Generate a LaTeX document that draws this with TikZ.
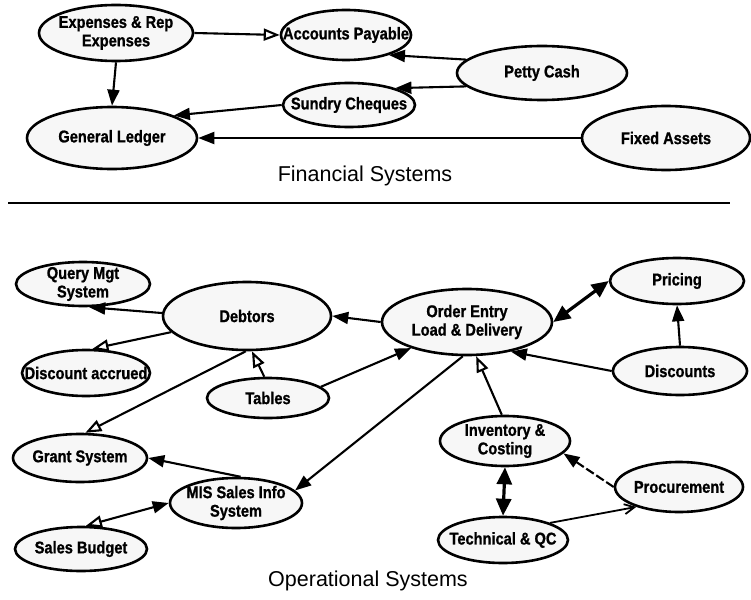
\documentclass[tikz,border=0pt]{standalone}
\usepackage{fontspec}
\setmainfont{Liberation Sans}
\newfontfamily\nodefont[FakeStretch=0.86,FakeBold=1]{Liberation Sans}
\usetikzlibrary{shapes.geometric,arrows.meta}

\tikzset{
  sys/.style={ellipse, draw, line width=2.6pt, fill=black!3, inner sep=0pt},
  lab/.style={font=\nodefont\bfseries\fontsize{17}{18.5}\selectfont, align=center, inner sep=0pt},
  title/.style={font=\fontsize{21.5}{24}\selectfont},
  link/.style={line width=2.1pt, -{Triangle[length=16pt,width=12pt]}},
  olink/.style={line width=2.1pt, -{Triangle[open,length=16pt,width=12pt,line width=2.1pt]}},
  both/.style={line width=3.2pt, {Triangle[length=17pt,width=15pt]}-{Triangle[length=17pt,width=15pt]}},
  thinboth/.style={line width=2.1pt, {Triangle[length=16pt,width=12pt]}-{Triangle[open,length=16pt,width=12pt,line width=2.1pt]}},
  barb/.style={line width=1.8pt, -{Straight Barb[length=10pt,width=10pt,line width=1.8pt]}}
}

\begin{document}
\begin{tikzpicture}[x=1pt,y=-1pt]
\useasboundingbox (0,0) rectangle (751,599);

% ---------------- Financial systems ----------------
\node[sys, minimum width=154pt, minimum height=56pt, label={[lab]center:{Expenses \& Rep\\Expenses}}] (exp) at (116,33) {};
\node[sys, minimum width=130pt, minimum height=50pt, label={[lab]center:Accounts Payable}] (ap) at (346,35) {};
\node[sys, minimum width=170pt, minimum height=54pt, label={[lab]center:Petty Cash}] (pc) at (542,73) {};
\node[sys, minimum width=132pt, minimum height=44pt, label={[lab]center:Sundry Cheques}] (sc) at (349,105) {};
\node[sys, minimum width=170pt, minimum height=62pt, label={[lab]center:General Ledger}] (gl) at (112,138) {};
\node[sys, minimum width=168pt, minimum height=64pt, label={[lab]center:Fixed Assets}] (fa) at (666,138) {};

\node[title] (fin) at (365,176) {Financial Systems};

\draw[olink] (exp.east) -- (ap.west);
\draw[link] (exp.south) -- (gl.north);
\draw[link] (pc.170) -- (ap.-25);
\draw[link] (pc.190) -- (sc.20);
\draw[link] (sc.west) -- (gl.20);
\draw[link] (fa.west) -- (gl.east);

% separator between the two groups
\coordinate (ruleL) at (8,203);
\coordinate (ruleR) at (730,203);
\draw[line width=2.2pt] (ruleL) -- (ruleR);

% ---------------- Operational systems ----------------
\node[sys, minimum width=134pt, minimum height=44pt, label={[lab]center:{Query Mgt\\System}}] (qms) at (83,284) {};
\node[sys, minimum width=168pt, minimum height=68pt, label={[lab]center:Debtors}] (deb) at (247,316) {};
\node[sys, minimum width=128pt, minimum height=46pt, label={[lab]center:Discount accrued}] (da) at (86,373) {};
\node[sys, minimum width=122pt, minimum height=40pt, label={[lab]center:Tables}] (tab) at (268,398) {};
\node[sys, minimum width=170pt, minimum height=66pt, label={[lab]center:{Order Entry\\Load \& Delivery}}] (oe) at (467,322) {};
\node[sys, minimum width=134pt, minimum height=46pt, label={[lab]center:Pricing}] (pr) at (677,281) {};
\node[sys, minimum width=134pt, minimum height=48pt, label={[lab]center:Discounts}] (dis) at (680,371) {};
\node[sys, minimum width=130pt, minimum height=50pt, label={[lab]center:{Inventory \&\\Costing}}] (inv) at (505,441) {};
\node[sys, minimum width=128pt, minimum height=50pt, label={[lab]center:Procurement}] (pro) at (679,487) {};
\node[sys, minimum width=130pt, minimum height=46pt, label={[lab]center:Technical \& QC}] (tqc) at (503,540) {};
\node[sys, minimum width=134pt, minimum height=48pt, label={[lab]center:Grant System}] (gr) at (80,458) {};
\node[sys, minimum width=132pt, minimum height=50pt, label={[lab]center:{MIS Sales Info\\System}}] (mis) at (236,503) {};
\node[sys, minimum width=132pt, minimum height=44pt, label={[lab]center:Sales Budget}] (sb) at (81,549) {};

\node[title] (ops) at (368,581) {Operational Systems};

\draw[link] (deb.178) -- (qms.-75);
\draw[olink] (deb.192) -- (da.75);
\draw[olink] (tab.100) -- (deb.-82);
\draw[link] (tab.12) -- (oe.205);
\draw[link] (oe.west) -- (deb.east);
\draw[olink] (deb.-92) -- (gr.78);
\draw[both] (oe.east) -- (pr.west);
\draw[link] (dis.north) -- (pr.south);
\draw[link] (dis.west) -- (oe.-34);
\draw[olink] (inv.97) -- (oe.-75);
\draw[link] (oe.-97) -- (mis.12);
\draw[link] (mis.80) -- (gr.east);
\draw[thinboth] (mis.west) -- (sb.78);
\draw[both] (inv.south) -- (tqc.north);
\draw[link, dash pattern=on 9pt off 3pt] (pro.west) -- (inv.-12);
\draw[barb] (tqc.20) -- (pro.205);

\end{tikzpicture}
\end{document}
